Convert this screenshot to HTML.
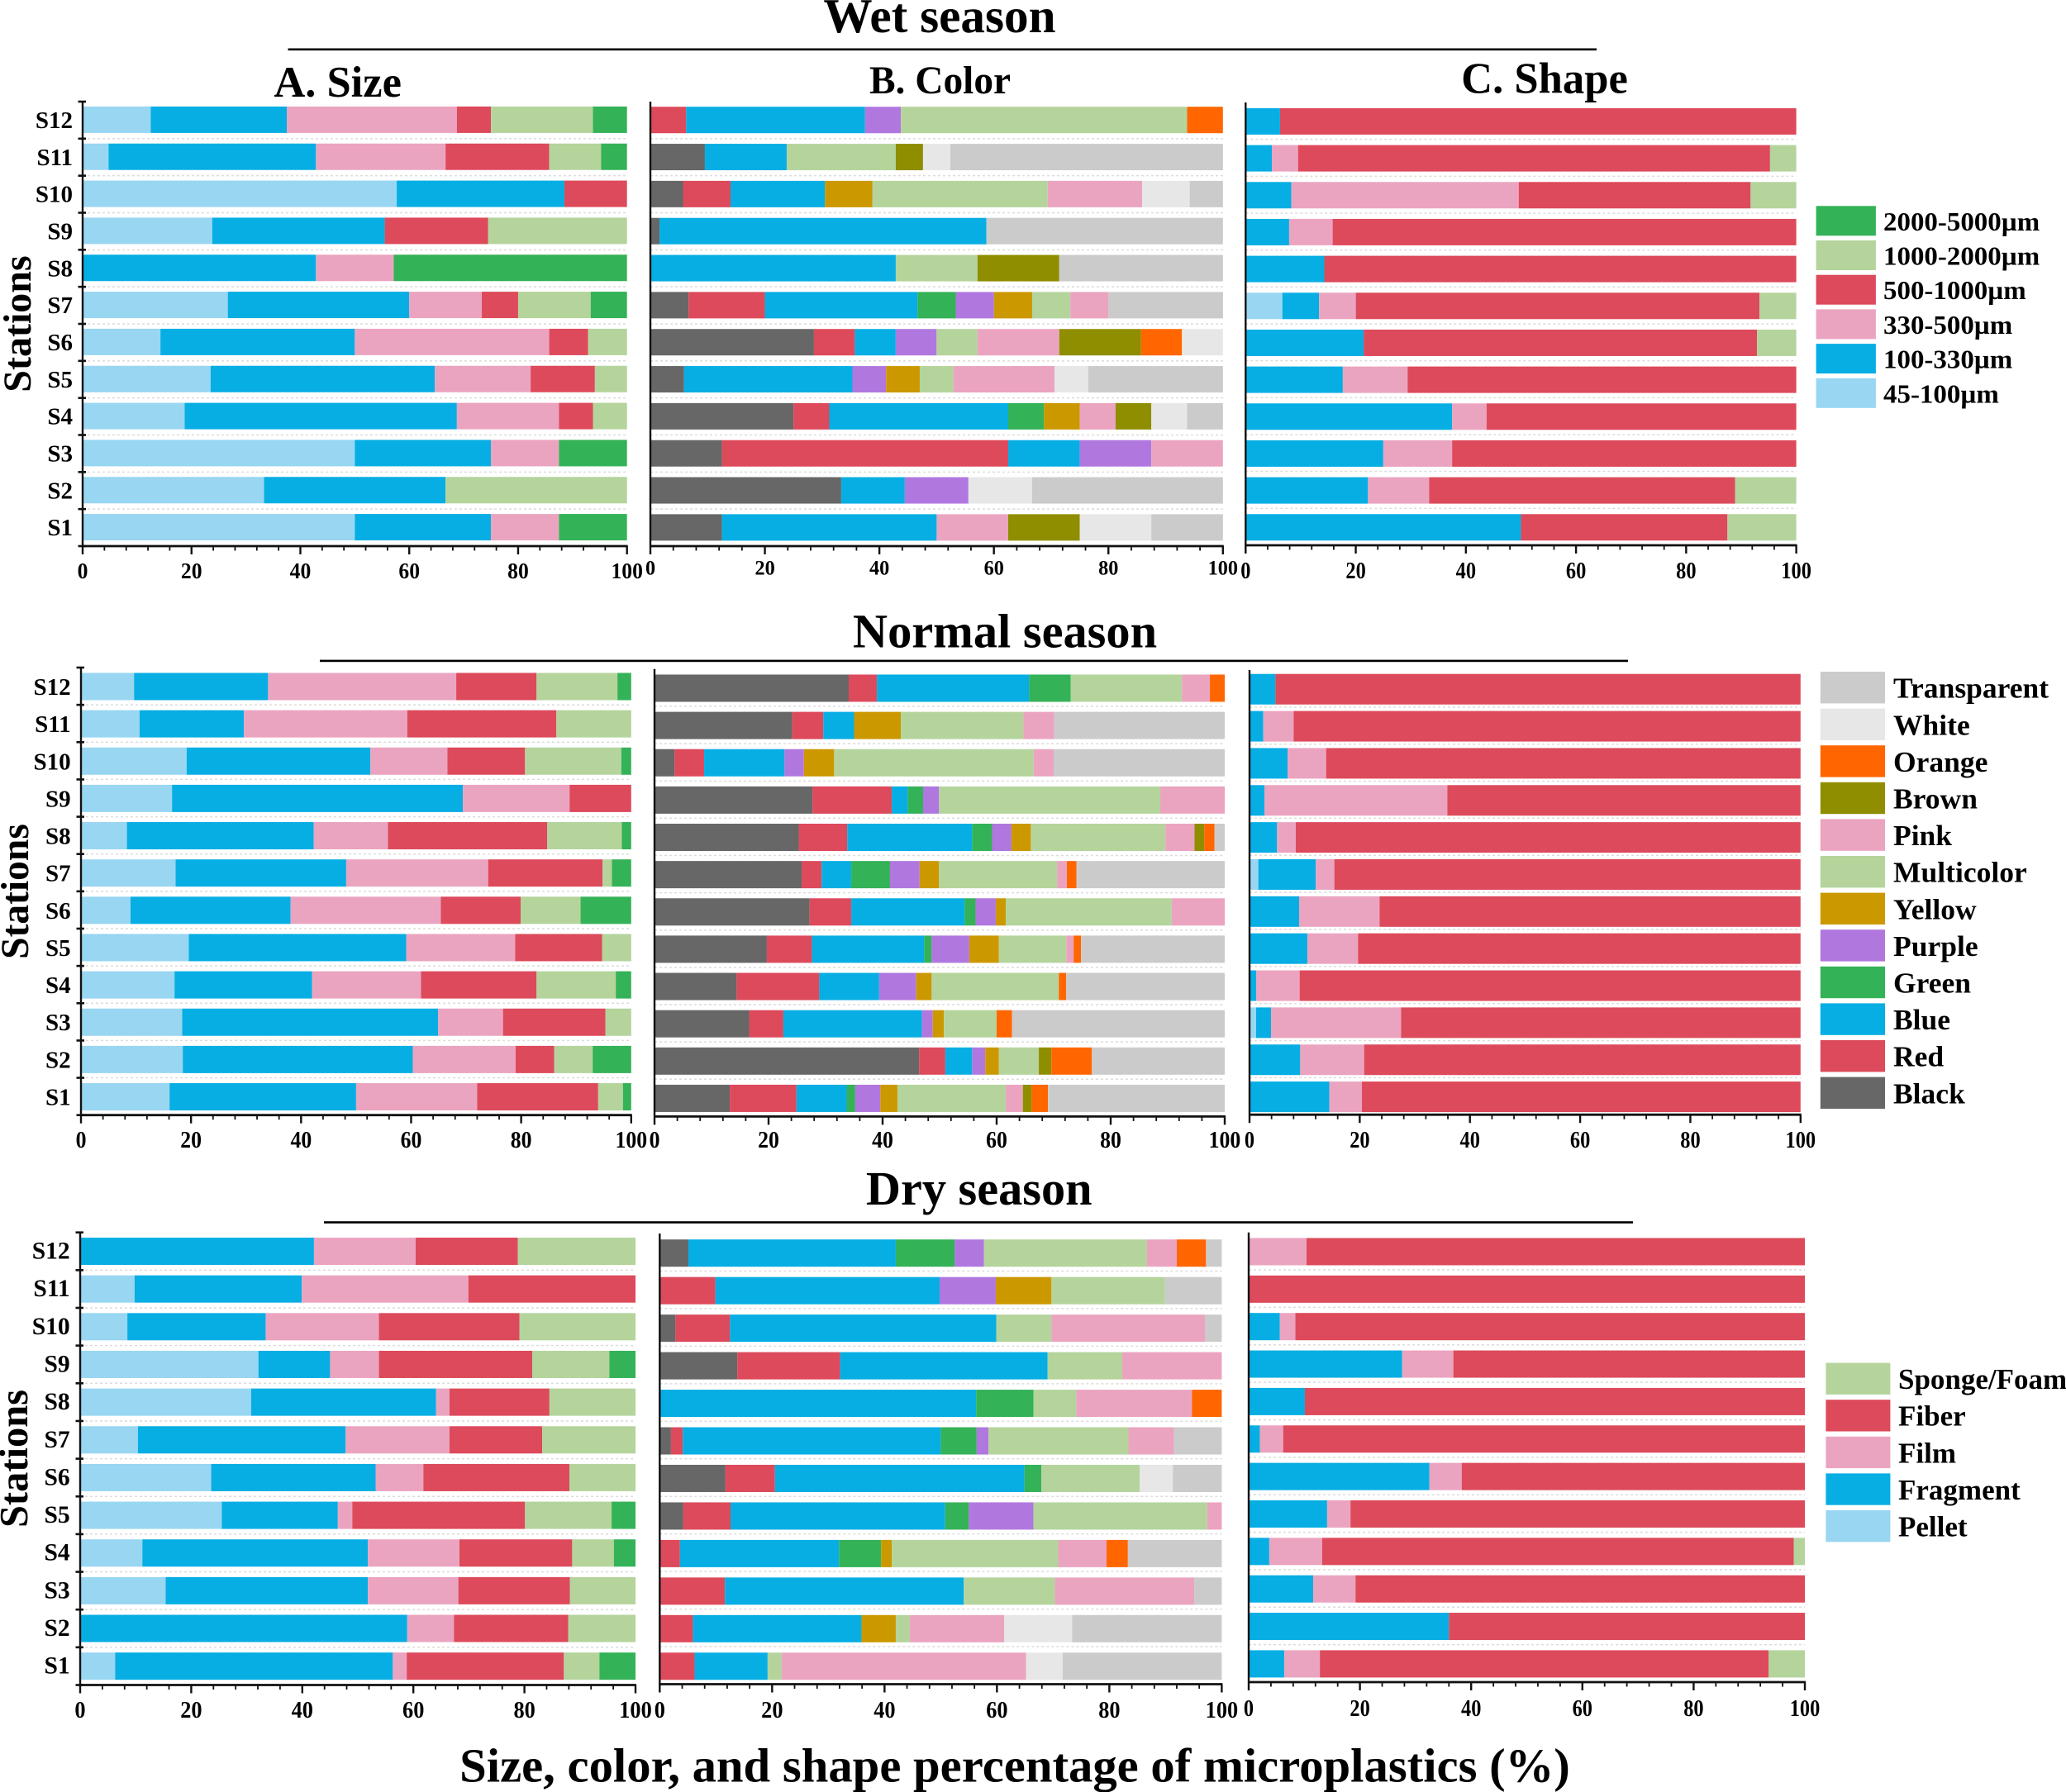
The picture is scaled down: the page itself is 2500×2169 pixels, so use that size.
<!DOCTYPE html>
<html lang="en">
<head>
<meta charset="utf-8">
<title>Size, color, and shape percentage of microplastics</title>
<style>
html,body{margin:0;padding:0;background:#fff;}
svg{display:block;}
text{font-family:"Liberation Serif","Times New Roman",serif;font-weight:bold;fill:#000;}
</style>
</head>
<body>
<svg id="chart" xmlns="http://www.w3.org/2000/svg" width="2500" height="2169" viewBox="0 0 2500 2169">
<rect x="0" y="0" width="2500" height="2169" fill="#ffffff"/>
<text x="1137" y="39" font-size="59.2" text-anchor="middle">Wet season</text>
<rect x="348.5" y="58.5" width="1583.5" height="2.6" fill="#000"/>
<text x="408.6" y="117" font-size="52.5" text-anchor="middle">A. Size</text>
<text x="1137.5" y="113" font-size="47.4" text-anchor="middle">B. Color</text>
<text x="1869" y="112.5" font-size="52.6" text-anchor="middle">C. Shape</text>
<text x="1216" y="783.7" font-size="58.4" text-anchor="middle">Normal season</text>
<rect x="387" y="798.6" width="1583" height="2.6" fill="#000"/>
<text x="1184.7" y="1457.9" font-size="58.3" text-anchor="middle">Dry season</text>
<rect x="392" y="1478.2" width="1584" height="2.6" fill="#000"/>
<text transform="translate(37,392) rotate(-90)" font-size="48" text-anchor="middle">Stations</text>
<text transform="translate(34,1079) rotate(-90)" font-size="47.5" text-anchor="middle">Stations</text>
<text transform="translate(33,1765.5) rotate(-90)" font-size="48.5" text-anchor="middle">Stations</text>
<text x="1228" y="2156.7" font-size="58.7" text-anchor="middle">Size, color, and shape percentage of microplastics (%)</text>
</svg>
<script>
// ---------- categories and tick labels ----------
const stations = ['S12','S11','S10','S9','S8','S7','S6','S5','S4','S3','S2','S1'];
const xTickLabels = [0,20,40,60,80,100];
const sizeCategories = ['45-100µm','100-330µm','330-500µm','500-1000µm','1000-2000µm','2000-5000µm'];
const colorCategories = ['Black','Red','Blue','Green','Purple','Yellow','Multicolor','Pink','Brown','Orange','White','Transparent'];
const shapeCategories = ['Pellet','Fragment','Film','Fiber','Sponge/Foam'];

// ---------- wet season values (rows S12 to S1) ----------
const wetSize = [
[12.5,25,31.25,6.25,18.75,6.25],
[4.76,38.1,23.81,19.05,9.52,4.76],
[57.7,30.8,0,11.5,0,0],
[23.8,31.7,0,19,25.5,0],
[0,42.86,14.28,0,0,42.86],
[26.67,33.33,13.33,6.67,13.33,6.67],
[14.29,35.71,35.71,7.14,7.15,0],
[23.5,41.2,17.6,11.8,5.9,0],
[18.75,50,18.75,6.25,6.25,0],
[50,25,12.5,0,0,12.5],
[33.33,33.33,0,0,33.34,0],
[50,25,12.5,0,0,12.5]
];
const wetColor = [
[0,6.25,31.25,0,6.25,0,50,0,0,6.25,0,0],
[9.52,0,14.29,0,0,0,19.05,0,4.76,0,4.76,47.62],
[5.7,8.3,16.5,0,0,8.3,30.6,16.5,0,0,8.3,5.8],
[1.6,0,57.1,0,0,0,0,0,0,0,0,41.3],
[0,0,42.86,0,0,0,14.28,0,14.28,0,0,28.58],
[6.67,13.33,26.67,6.67,6.67,6.67,6.67,6.67,0,0,0,20],
[28.57,7.14,7.14,0,7.14,0,7.14,14.29,14.29,7.14,7.15,0],
[5.88,0,29.41,0,5.88,5.88,5.88,17.65,0,0,5.88,23.54],
[25,6.25,31.25,6.25,0,6.25,0,6.25,6.25,0,6.25,6.25],
[12.5,50,12.5,0,12.5,0,0,12.5,0,0,0,0],
[33.33,0,11.11,0,11.11,0,0,0,0,0,11.11,33.34],
[12.5,0,37.5,0,0,0,0,12.5,12.5,0,12.5,12.5]
];
const wetShape = [
[0,6.25,0,93.75,0],
[0,4.76,4.76,85.72,4.76],
[0,8.3,41.3,42.1,8.3],
[0,7.9,7.9,84.2,0],
[0,14.29,0,85.71,0],
[6.67,6.67,6.67,73.32,6.67],
[0,21.43,0,71.43,7.14],
[0,17.65,11.76,70.59,0],
[0,37.5,6.25,56.25,0],
[0,25,12.5,62.5,0],
[0,22.22,11.11,55.56,11.11],
[0,50,0,37.5,12.5]
];

// ---------- normal season values ----------
const normalSize = [
[9.65,24.35,34.2,14.6,14.7,2.5],
[10.65,18.95,29.7,27.1,13.6,0],
[19.2,33.4,14,14.1,17.5,1.8],
[16.55,52.85,19.4,11.2,0,0],
[8.35,33.95,13.5,28.95,13.55,1.7],
[17.2,31,25.8,20.8,1.7,3.5],
[9,29.1,27.3,14.5,10.9,9.2],
[19.6,39.5,19.8,15.8,5.3,0],
[17,25,19.8,21,14.4,2.8],
[18.4,46.5,11.8,18.6,4.7,0],
[18.5,41.8,18.7,7,7,7],
[16.1,33.9,22,22,4.5,1.5]
];
const normalColor = [
[34.06,4.94,26.7,7.3,0,0,19.5,4.9,0,2.6,0,0],
[24.15,5.45,5.4,0,0,8.2,21.5,5.4,0,0,0,29.9],
[3.5,5.2,14.1,0,3.4,5.3,35,3.5,0,0,0,30],
[27.7,13.9,2.8,2.7,2.8,0,38.8,11.3,0,0,0,0],
[25.3,8.5,21.9,3.5,3.4,3.4,23.6,5.1,1.7,1.8,0,1.8],
[25.8,3.5,5.2,6.8,5.2,3.4,20.7,1.7,0,1.7,0,26],
[27.2,7.3,19.9,1.9,3.55,1.75,29.1,9.3,0,0,0,0],
[19.7,7.9,19.7,1.3,6.6,5.2,11.8,1.3,0,1.3,0,25.2],
[14.4,14.5,10.5,0,6.5,2.7,22.3,0,0,1.3,0,27.8],
[16.6,6,24.3,0,1.9,1.95,9.25,0,0,2.7,0,37.3],
[46.4,4.6,4.7,0,2.3,2.4,7,0,2.2,7.1,0,23.3],
[13.2,11.7,8.8,1.5,4.4,3,19,3,1.5,2.9,0,31]
];
const normalShape = [
[0,4.7,0,95.3,0],
[0,2.5,5.5,92,0],
[0,6.9,7,86.1,0],
[0,2.7,33.2,64.1,0],
[0,5,3.4,91.6,0],
[1.6,10.4,3.4,84.6,0],
[0,9,14.6,76.4,0],
[0,10.5,9.2,80.3,0],
[0,1.2,7.9,90.9,0],
[1.2,2.7,23.6,72.5,0],
[0,9.2,11.6,79.2,0],
[0,14.5,5.9,79.6,0]
];

// ---------- dry season values ----------
const drySize = [
[0,42.1,18.3,18.4,21.2,0],
[9.8,30.1,30,30.1,0,0],
[8.5,24.9,20.4,25.3,20.9,0],
[32.1,12.9,8.8,27.6,13.9,4.7],
[30.8,33.3,2.4,18,15.5,0],
[10.4,37.4,18.7,16.7,16.8,0],
[23.6,29.6,8.6,26.3,11.9,0],
[25.5,20.9,2.6,31.1,15.6,4.3],
[11.2,40.6,16.5,20.3,7.5,3.9],
[15.4,36.4,16.3,20.1,11.8,0],
[0,58.9,8.4,20.6,12.1,0],
[6.3,50,2.5,28.3,6.4,6.5]
];
const dryColor = [
[5.1,0,36.9,10.5,5.2,0,29,5.3,0,5.2,0,2.8],
[0,9.9,39.9,0,10,9.9,20.2,0,0,0,0,10.1],
[2.8,9.7,47.4,0,0,0,9.8,27.3,0,0,0,3],
[13.8,18.3,36.9,0,0,0,13.3,17.7,0,0,0,0],
[0,0,56.3,10.2,0,0,7.6,20.6,0,5.3,0,0],
[2,2.1,45.9,6.4,2.1,0,24.9,8.1,0,0,0,8.5],
[11.7,8.8,44.4,3,0,0,17.5,0,0,0,5.9,8.7],
[4.2,8.4,38.2,4.2,11.5,0,30.9,2.6,0,0,0,0],
[0,3.6,28.3,7.5,0,1.9,29.6,8.6,0,3.8,0,16.7],
[0,11.6,42.5,0,0,0,16.2,24.8,0,0,0,4.9],
[0,5.9,30,0,0,6.1,2.5,16.8,0,0,12.1,26.6],
[0,6.2,13,0,0,0,2.5,43.5,0,0,6.5,28.3]
];
const dryShape = [
[0,0,10.4,89.6,0],
[0,0,0,100,0],
[0,5.6,2.8,91.6,0],
[0,27.6,9.2,63.2,0],
[0,10.1,0,89.9,0],
[0,2,4.2,93.8,0],
[0,32.5,5.8,61.7,0],
[0,14.1,4.2,81.7,0],
[0,3.7,9.5,84.8,2],
[0,11.6,7.6,80.8,0],
[0,36,0,64,0],
[0,6.4,6.4,80.7,6.5]
];

// ---------- styling and layout (not data) ----------
const palette = {
  '45-100µm':'#98D6F2','100-330µm':'#07AEE4','330-500µm':'#EBA4C0','500-1000µm':'#DD4A5B','1000-2000µm':'#B4D49C','2000-5000µm':'#34B257',
  'Black':'#676767','Red':'#DD4A5B','Blue':'#07AEE4','Green':'#34B257','Purple':'#B078DF','Yellow':'#CC9800','Multicolor':'#B4D49C','Pink':'#EBA4C0','Brown':'#8F8E00','Orange':'#FF6600','White':'#E7E7E7','Transparent':'#CBCBCB',
  'Pellet':'#98D6F2','Fragment':'#07AEE4','Film':'#EBA4C0','Fiber':'#DD4A5B','Sponge/Foam':'#B4D49C'
};
const panels = [
 {id:'wet-size',values:wetSize,cats:sizeCategories,x0:100,x100:758.7,top:123,axis:661,barH:32,shift:-.5,tickY:700,tickFs:27,tickK:.95,yLabels:{right:88,fs:29,dy:10}},
 {id:'wet-color',values:wetColor,cats:colorCategories,x0:787,x100:1479.8,top:123,axis:661,barH:32,shift:-.2,tickY:695.6,tickFs:25,tickK:.97,},
 {id:'wet-shape',values:wetShape,cats:shapeCategories,x0:1507.3,x100:2173.6,top:124,axis:660,barH:32,shift:.6,tickY:700,tickFs:28,tickK:.87},
 {id:'normal-size',values:normalSize,cats:sizeCategories,x0:98,x100:763.8,top:808,axis:1349.7,barH:33,shift:.4,tickY:1389,tickFs:28,tickK:.92,yLabels:{right:85.7,fs:29,dy:10}},
 {id:'normal-color',values:normalColor,cats:colorCategories,x0:792,x100:1482,top:809.8,axis:1351.4,barH:33,shift:.6,tickY:1389,tickFs:28,tickK:.92},
 {id:'normal-shape',values:normalShape,cats:shapeCategories,x0:1512,x100:2178.8,top:811,axis:1349.2,barH:37,shift:.8,tickY:1389,tickFs:28,tickK:.87},
 {id:'dry-size',values:drySize,cats:sizeCategories,x0:97,x100:769,top:1491.7,axis:2039.5,barH:33,shift:0,tickY:2079,tickFs:28,tickK:.94,yLabels:{right:84.7,fs:29.5,dy:9}},
 {id:'dry-color',values:dryColor,cats:colorCategories,x0:798.3,x100:1478.4,top:1493,axis:2038.5,barH:33,shift:1,tickY:2079,tickFs:28,tickK:.94},
 {id:'dry-shape',values:dryShape,cats:shapeCategories,x0:1511,x100:2184,top:1491.7,axis:2036,barH:33,shift:.6,tickY:2076.8,tickFs:28,tickK:.87}
];
const legends = [
 {id:'size',items:sizeCategories.slice().reverse(),x:2197.6,w:72.3,y:249.3,h:36,pitch:41.7,textX:2279,fs:32,k:1.03,dy:11.5},
 {id:'color',items:colorCategories.slice().reverse(),x:2202.8,w:78.2,y:813,h:38.4,pitch:44.6,textX:2291,fs:35,k:1.015,dy:12.5},
 {id:'shape',items:shapeCategories.slice().reverse(),x:2209.4,w:78,y:1649.6,h:38.3,pitch:44.6,textX:2297,fs:35,k:1,dy:12.3}
];

const NS = 'http://www.w3.org/2000/svg';
const svg = document.getElementById('chart');
function make(tag, attrs, parent) {
  const el = document.createElementNS(NS, tag);
  for (const key in attrs) el.setAttribute(key, attrs[key]);
  (parent || svg).appendChild(el);
  return el;
}
function xScale(p, v) { return p.x0 + (p.x100 - p.x0) * v / 100; }
function bandTop(p, i) { return p.top + (p.axis - p.top) * i / stations.length; }
function bandCenter(p, i) { return bandTop(p, i + 0.5) + p.shift; }

panels.forEach(function (p) {
  const g = make('g', {});
  
  

  // dotted separators
  for (let i = 1; i < stations.length; i++) {
    const grid = make('line', {x1:p.x0, x2:p.x100, y1:bandTop(p,i), y2:bandTop(p,i), stroke:'#dcdcdc', 'stroke-width':1.5, 'stroke-dasharray':'3 3'}, g);
    
    
  }

  // stacked bars
  p.values.forEach(function (row, i) {
    let cum = 0;
    row.forEach(function (v, j) {
      if (v > 0) {
        const x1 = xScale(p, cum);
        const x2 = xScale(p, cum + v);
        const seg = make('rect', {x:x1, y:bandCenter(p,i) - p.barH/2, width:x2 - x1, height:p.barH, fill:palette[p.cats[j]]}, g);
        
        
      }
      cum += v;
    });
  });

  // y axis line
  const yLine = make('line', {x1:p.x0, x2:p.x0, y1:p.top, y2:p.axis, stroke:'#111', 'stroke-width':2.4}, g);
  
  

  // y ticks and station labels on the left-hand panels
  if (p.yLabels) {
    for (let i = 0; i <= stations.length; i++) {
      const t = make('line', {x1:p.x0 - 5.5, x2:p.x0 + 4, y1:bandTop(p,i), y2:bandTop(p,i), stroke:'#111', 'stroke-width':2.6}, g);
      
      
    }
    stations.forEach(function (s, i) {
      const lbl = make('text', {x:p.yLabels.right, y:bandCenter(p,i) + p.yLabels.dy, 'font-size':p.yLabels.fs, 'text-anchor':'end'}, g);
      lbl.textContent = s;
      
      
    });
  }

  // x axis
  const xLine = make('line', {x1:p.x0 - 1, x2:p.x100 + 1, y1:p.axis, y2:p.axis, stroke:'#111', 'stroke-width':2.8}, g);
  
  
  for (let v = 0; v <= 100; v += 4) {
    const major = xTickLabels.indexOf(v) >= 0;
    const tk = make('line', {x1:xScale(p,v), x2:xScale(p,v), y1:p.axis, y2:p.axis + (major ? 10 : 5.5), stroke:'#111', 'stroke-width':major ? 2.4 : 1.8}, g);
    
    
  }
  xTickLabels.forEach(function (v) {
    const lab = make('text', {transform:'translate(' + xScale(p,v) + ',' + p.tickY + ') scale(' + p.tickK + ',1)', 'font-size':p.tickFs, 'text-anchor':'middle'}, g);
    lab.textContent = String(v);
    
    
  });
});

legends.forEach(function (l) {
  const g = make('g', {});
  
  
  l.items.forEach(function (name, i) {
    const yy = l.y + i * l.pitch;
    const sw = make('rect', {x:l.x, y:yy, width:l.w, height:l.h, fill:palette[name]}, g);
    
    
    const tx = make('text', {transform:'translate(' + l.textX + ',' + (yy + l.h/2 + l.dy) + ') scale(' + l.k + ',1)', 'font-size':l.fs}, g);
    tx.textContent = name;
    
    
  });
});
</script>
</body>
</html>
